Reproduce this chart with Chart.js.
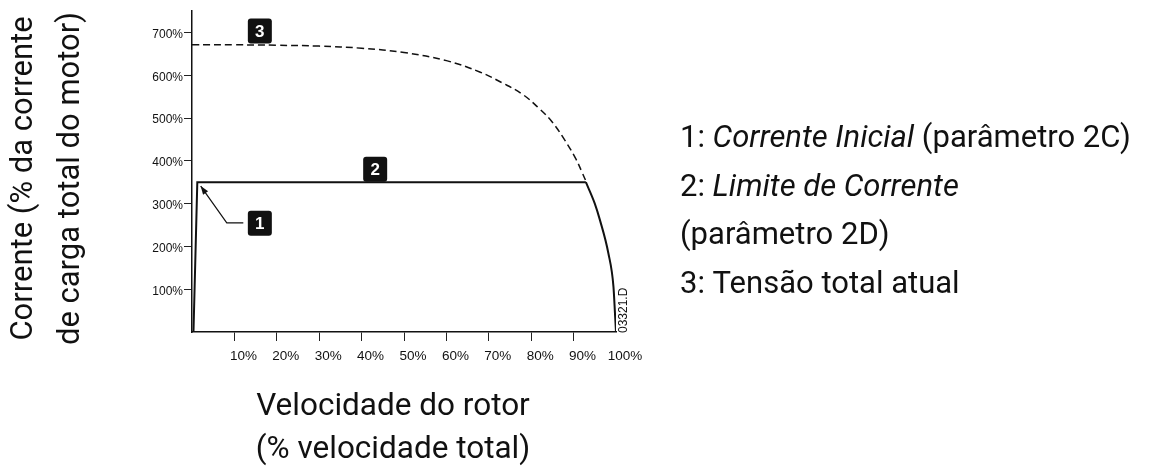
<!DOCTYPE html>
<html>
<head>
<meta charset="utf-8">
<title>Corrente vs velocidade do rotor</title>
<script src="https://cdn.jsdelivr.net/npm/chart.js@4/dist/chart.umd.min.js"></script>
<style>
  html, body { margin: 0; padding: 0; background: #fff; }
  #wrap { width: 1169px; height: 468px; position: relative; }
</style>
</head>
<body>
<div id="wrap"><canvas id="curveChart" width="1169" height="468"></canvas></div>
<script>
// rotor speed (% of full speed) against current (% of motor full load current)
const currentLimitX = [0.35, 1.25, 92.9];
const currentLimitY = [0, 350, 350];
const dropOffX = [92.9, 95, 96.2, 98.2, 99.4, 99.8, 100];
const dropOffY = [350, 300, 262, 184, 106, 36, 0];
const fullVoltageX = [0, 10, 20, 30, 40, 50, 60, 68, 73, 78, 82, 85, 88, 90.5, 92, 93];
const fullVoltageY = [671, 671, 670, 668, 663, 653, 634, 607, 583, 555, 521, 490, 447, 405, 373, 350];

const xTicks = [10, 20, 30, 40, 50, 60, 70, 80, 90, 100];
const yTicks = [100, 200, 300, 400, 500, 600, 700];

// numbered callouts and the arrow pointing at the start current
const markerLabels = ['1', '2', '3'];
const markerX = [16, 43.2, 16];
const markerY = [254, 380, 703];
const arrowX = [12.1, 8.2, 2.05];
const arrowY = [255, 255, 341];

const yTitle = ['Corrente (% da corrente', 'de carga total do motor)'];
const xTitle = ['Velocidade do rotor', '(% velocidade total)'];
// each legend line is a list of [text, italic]
const legendLines = [
  [['1: ', false], ['Corrente Inicial', true], [' (parâmetro 2C)', false]],
  [['2: ', false], ['Limite de Corrente', true]],
  [['(parâmetro 2D)', false]],
  [['3: Tensão total atual', false]]
];
const drawingCode = '03321.D';

const xTickFont = { family: '"Liberation Sans", Arial, sans-serif', size: 13.5 };
const yTickFont = { family: '"Liberation Sans", Arial, sans-serif', size: 12 };
const bigFont = '"Roboto", "Noto Sans", sans-serif';

const toPoints = (xs, ys) => xs.map((x, i) => ({ x: x, y: ys[i] }));

const extrasPlugin = {
  id: 'extras',
  afterDatasetsDraw(chart) {
    const ctx = chart.ctx;
    const xs = chart.scales.x;
    const ys = chart.scales.y;
    const area = chart.chartArea;

    // arrow 1
    ctx.save();
    ctx.strokeStyle = '#111';
    ctx.fillStyle = '#111';
    ctx.lineWidth = 1.2;
    const pts = arrowX.map((v, i) => [xs.getPixelForValue(v), ys.getPixelForValue(arrowY[i])]);
    ctx.beginPath();
    ctx.moveTo(pts[0][0], pts[0][1]);
    for (let i = 1; i < pts.length; i++) ctx.lineTo(pts[i][0], pts[i][1]);
    ctx.stroke();
    const tip = pts[pts.length - 1], prev = pts[pts.length - 2];
    const ang = Math.atan2(tip[1] - prev[1], tip[0] - prev[0]);
    ctx.beginPath();
    ctx.moveTo(tip[0], tip[1]);
    ctx.lineTo(tip[0] - 9 * Math.cos(ang - 0.35), tip[1] - 9 * Math.sin(ang - 0.35));
    ctx.lineTo(tip[0] - 9 * Math.cos(ang + 0.35), tip[1] - 9 * Math.sin(ang + 0.35));
    ctx.closePath();
    ctx.fill();

    // numbered boxes
    markerLabels.forEach((lbl, i) => {
      const cx = xs.getPixelForValue(markerX[i]);
      const cy = ys.getPixelForValue(markerY[i]);
      ctx.fillStyle = '#111';
      ctx.beginPath();
      ctx.roundRect(cx - 12, cy - 12.5, 24, 25, 3);
      ctx.fill();
      ctx.fillStyle = '#fff';
      ctx.font = 'bold 17px "Liberation Sans", Arial, sans-serif';
      ctx.textAlign = 'center';
      ctx.textBaseline = 'middle';
      ctx.fillText(lbl, cx, cy + 1);
    });

    // drawing code, rotated
    ctx.save();
    ctx.translate(area.right + 8, area.bottom + 1);
    ctx.rotate(-Math.PI / 2);
    ctx.fillStyle = '#111';
    ctx.font = '12px "Liberation Sans", Arial, sans-serif';
    ctx.textAlign = 'left';
    ctx.textBaseline = 'middle';
    ctx.fillText(drawingCode, 0, 0);
    ctx.restore();

    // axis titles
    ctx.fillStyle = '#111';
    ctx.font = '31px ' + bigFont;
    ctx.textAlign = 'center';
    ctx.textBaseline = 'middle';
    const yMid = (area.top + area.bottom) / 2 + 7;
    [24, 71].forEach((x, i) => {
      ctx.save();
      ctx.translate(x, yMid);
      ctx.rotate(-Math.PI / 2);
      ctx.fillText(yTitle[i], 0, 0);
      ctx.restore();
    });
    ctx.textBaseline = 'alphabetic';
    ctx.font = '31.5px ' + bigFont;
    const xMid = (area.left + area.right) / 2 - 11;
    [415, 458].forEach((y, i) => ctx.fillText(xTitle[i], xMid, y));

    // legend text on the right
    ctx.textAlign = 'left';
    const legendLeft = 680;
    legendLines.forEach((parts, i) => {
      let x = legendLeft;
      const y = 147 + i * 48.5;
      parts.forEach(([txt, italic]) => {
        ctx.font = (italic ? 'italic ' : '') + '31px ' + bigFont;
        ctx.fillText(txt, x, y);
        x += ctx.measureText(txt).width;
      });
    });
    ctx.restore();
  }
};

new Chart(document.getElementById('curveChart'), {
  type: 'line',
  data: {
    datasets: [
      {
        label: 'Tensão total atual',
        data: toPoints(fullVoltageX, fullVoltageY),
        borderColor: '#111',
        borderWidth: 1.5,
        borderDash: [7, 4],
        tension: 0.4,
        pointRadius: 0,
        fill: false
      },
      {
        label: 'Limite de Corrente',
        data: toPoints(currentLimitX, currentLimitY),
        borderColor: '#111',
        borderWidth: 2,
        tension: 0,
        pointRadius: 0,
        fill: false
      },
      {
        label: 'Queda',
        data: toPoints(dropOffX, dropOffY),
        borderColor: '#111',
        borderWidth: 2,
        cubicInterpolationMode: 'monotone',
        pointRadius: 0,
        fill: false
      }
    ]
  },
  options: {
    responsive: false,
    animation: false,
    events: [],
    layout: { padding: { left: 132, right: 553, top: 11, bottom: 106 } },
    plugins: {
      legend: { display: false },
      tooltip: { enabled: false }
    },
    scales: {
      x: {
        type: 'linear',
        min: 0,
        max: 100,
        afterFit: (s) => { s.height = 30; },
        afterBuildTicks: (s) => { s.ticks = xTicks.map(v => ({ value: v })); },
        ticks: {
          callback: (v) => v + '%',
          font: xTickFont,
          color: '#111',
          padding: 7,
          labelOffset: 9,
          maxRotation: 0,
          autoSkip: false
        },
        grid: {
          drawOnChartArea: false,
          tickLength: 9,
          tickWidth: 1,
          tickColor: (c) => (c.tick && c.tick.value === 100) ? 'rgba(0,0,0,0)' : '#222'
        },
        border: { color: '#111', width: 1.5 }
      },
      y: {
        type: 'linear',
        min: 0,
        max: 750,
        afterFit: (s) => { s.width = 60; },
        afterBuildTicks: (s) => { s.ticks = yTicks.map(v => ({ value: v })); },
        ticks: {
          callback: (v) => v + '%',
          font: yTickFont,
          color: '#111',
          padding: 1,
          labelOffset: 2
        },
        grid: {
          drawOnChartArea: false,
          tickLength: 8,
          tickWidth: 1,
          tickColor: '#222'
        },
        border: { color: '#111', width: 1.5 }
      }
    }
  },
  plugins: [extrasPlugin]
});
</script>
</body>
</html>
